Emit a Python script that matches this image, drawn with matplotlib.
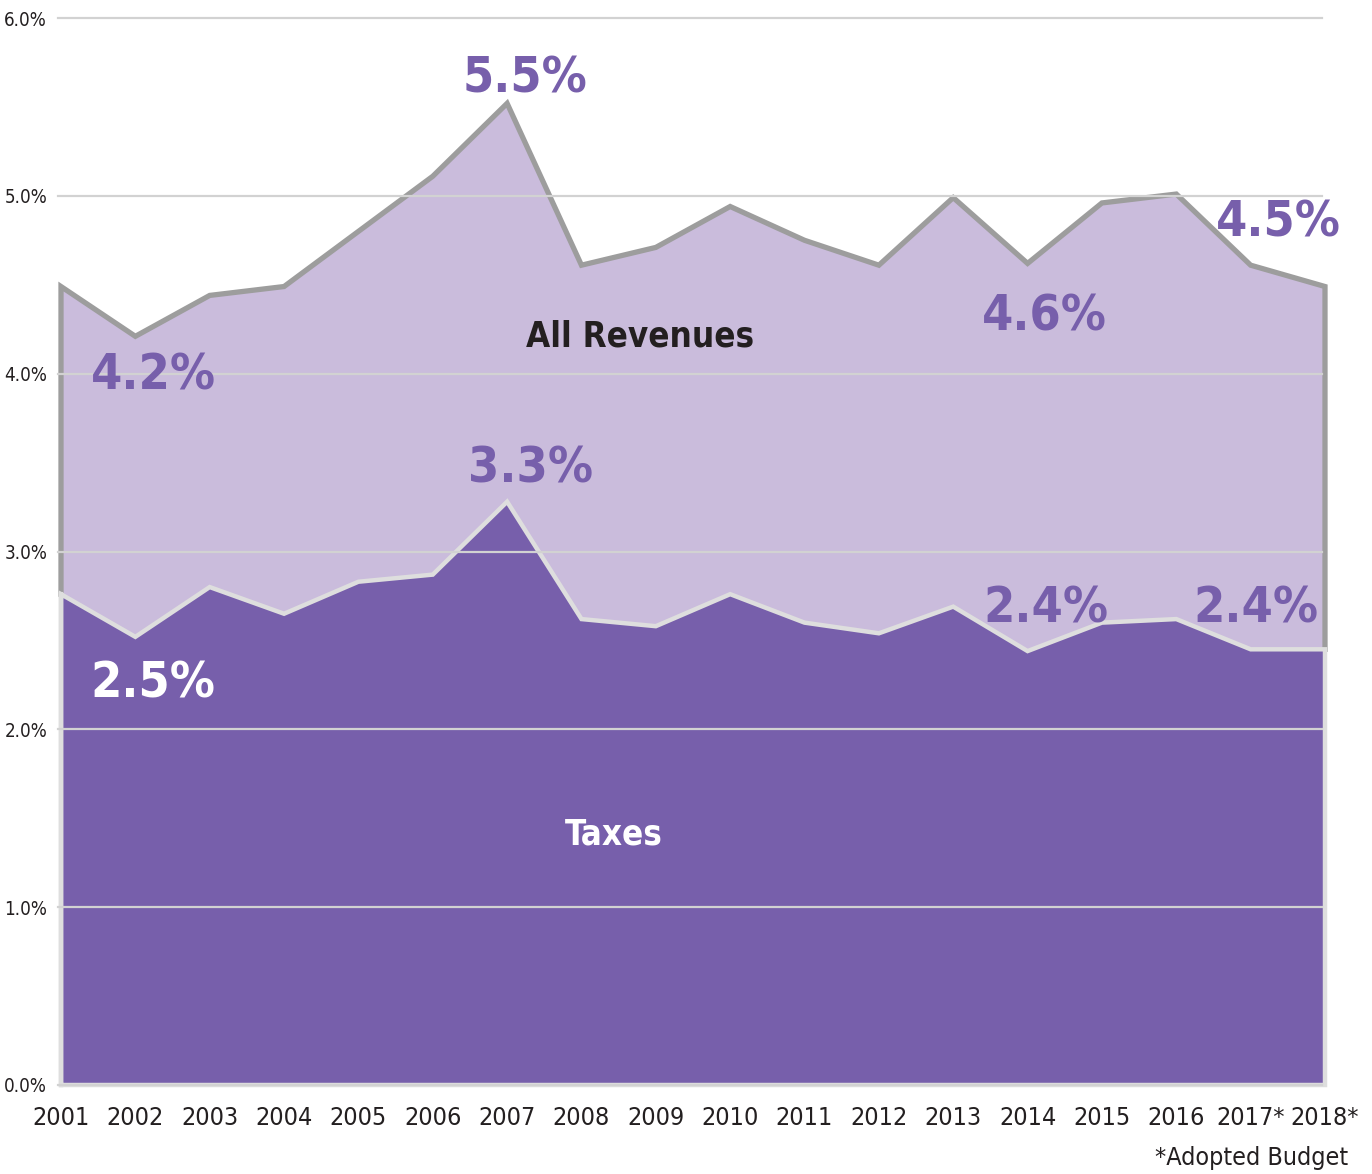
import matplotlib
matplotlib.use("Agg")
import matplotlib.pyplot as plt

# data
years = list(range(2001, 2019))
year_labels = ["2001", "2002", "2003", "2004", "2005", "2006", "2007", "2008", "2009",
               "2010", "2011", "2012", "2013", "2014", "2015", "2016", "2017*", "2018*"]
all_revenues = [4.49, 4.21, 4.44, 4.49, 4.80, 5.11, 5.52, 4.61, 4.71,
                4.94, 4.75, 4.61, 4.99, 4.62, 4.96, 5.01, 4.61, 4.49]
taxes = [2.76, 2.52, 2.80, 2.65, 2.83, 2.87, 3.28, 2.62, 2.58,
         2.76, 2.60, 2.54, 2.69, 2.44, 2.60, 2.62, 2.45, 2.45]
y_ticks = [0, 1, 2, 3, 4, 5, 6]

PURPLE = "#775fab"
LILAC = "#cabcdc"
GREY_LINE = "#9d9d9d"
LIGHT_LINE = "#dedede"
GRID = "#d2d2d2"
TXT = "#231f20"

# narrow face wanted; DejaVu condensed if there is one
plt.rcParams["font.family"] = ["Liberation Sans Narrow", "DejaVu Sans"]
plt.rcParams["font.stretch"] = "condensed"

fig = plt.figure(figsize=(13.72, 11.74), dpi=100)
ax = fig.add_axes([61 / 1372, 89 / 1174, 1264 / 1372, 1067 / 1174])

# stacked look: revenue area behind, taxes area in front
ax.fill_between(years, 0, all_revenues, color=LILAC, lw=0, zorder=1)
ax.plot([years[0]] + years + [years[-1]], [taxes[0]] + all_revenues + [taxes[-1]],
        color=GREY_LINE, lw=3.8, solid_joinstyle="miter", zorder=2, clip_on=False)
ax.fill_between(years, 0, taxes, color=PURPLE, lw=0, zorder=3)
ax.plot([years[0]] + years + [years[-1], years[0], years[0]],
        [0] + taxes + [0, 0, taxes[0]],
        color=LIGHT_LINE, lw=3.2, solid_joinstyle="miter", zorder=4, clip_on=False)

# gridlines over the fills
for t in y_ticks:
    ax.plot([2000.96, 2017.96], [t, t], color=GRID, lw=1.6, zorder=5, clip_on=False)

ax.set_xlim(2001, 2018)
ax.set_ylim(0, 6)
for s in ax.spines.values():
    s.set_visible(False)
ax.tick_params(length=0)
ax.set_yticks(y_ticks)
ax.set_yticklabels(["%.1f%%" % t for t in y_ticks], fontsize=13.5, color=TXT)
ax.tick_params(axis="y", pad=10)
ax.set_xticks(years)
ax.set_xticklabels(year_labels, fontsize=18, color=TXT)
ax.tick_params(axis="x", pad=15)

# value labels
big = dict(fontsize=36, fontweight="bold", ha="center", va="baseline", zorder=6)
ax.text(2007.24, 5.58, "5.5%", color=PURPLE, **big)
ax.text(2002.24, 3.91, "4.2%", color=PURPLE, **big)
ax.text(2014.22, 4.24, "4.6%", color=PURPLE, **big)
ax.text(2017.37, 4.77, "4.5%", color=PURPLE, **big)
ax.text(2007.31, 3.39, "3.3%", color=PURPLE, **big)
ax.text(2002.24, 2.18, "2.5%", color="white", **big)
ax.text(2014.25, 2.60, "2.4%", color=PURPLE, **big)
ax.text(2017.07, 2.60, "2.4%", color=PURPLE, **big)

ax.text(2008.79, 4.15, "All Revenues", fontsize=25, fontweight="bold",
        color=TXT, ha="center", va="baseline", zorder=6)
ax.text(2008.44, 1.35, "Taxes", fontsize=25, fontweight="bold",
        color="white", ha="center", va="baseline", zorder=6)

fig.text(1348 / 1372, 1 - 1165 / 1174, "*Adopted Budget", fontsize=18,
         color=TXT, ha="right", va="baseline")

fig.savefig("out.png", dpi=100)
